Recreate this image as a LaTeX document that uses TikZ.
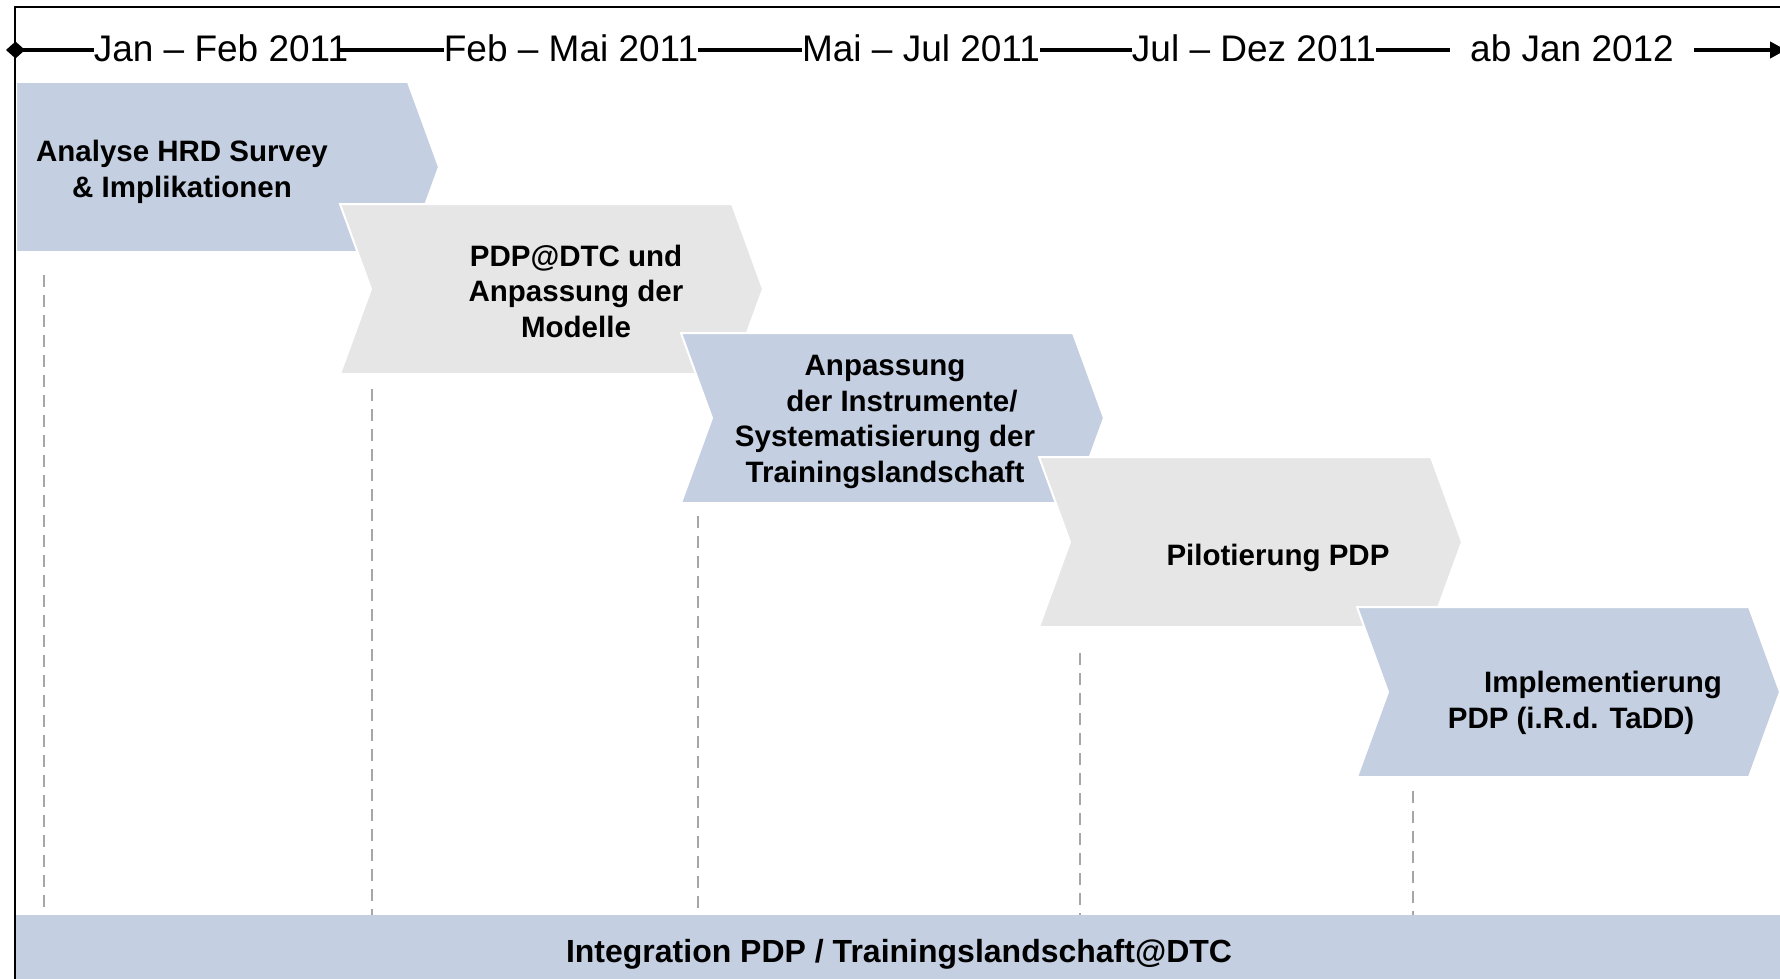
\documentclass[tikz,border=0pt]{standalone}
\usepackage{fontspec}
\setmainfont{Liberation Sans}
\usetikzlibrary{arrows.meta}
\definecolor{phaseblue}{HTML}{C4CFE1}
\definecolor{phasegrey}{HTML}{E6E6E6}
\definecolor{guidegrey}{HTML}{A6A6A6}

\begin{document}
\begin{tikzpicture}[x=1pt,y=-1pt,
  datelabel/.style={font=\fontsize{37}{41}\selectfont, inner sep=0pt, anchor=base},
  phasetext/.style={font=\bfseries\fontsize{29.5}{35.5}\selectfont, align=center, inner sep=0pt},
  chevron/.style={draw=white, line width=2pt},
  bluephase/.style={chevron, fill=phaseblue},
  greyphase/.style={chevron, fill=phasegrey},
  timeline/.style={line width=4.5pt},
  guideline/.style={draw=guidegrey, line width=1.5pt, dash pattern=on 12pt off 8pt},
]
\useasboundingbox (0,0) rectangle (1780,979);
\fill[white] (0,0) rectangle (1780,979);

% phase chevrons, each one overlapping the previous one
\path[bluephase] (16,82) -- ++(392,0) -- ++(31,85) -- ++(-31,85) -- ++(-392,0) -- cycle;
\path[greyphase] (340,204) -- ++(392,0) -- ++(31,85) -- ++(-31,85) -- ++(-392,0) -- ++(31,-85) -- cycle;
\path[bluephase] (681,333) -- ++(392,0) -- ++(31,85) -- ++(-31,85) -- ++(-392,0) -- ++(31,-85) -- cycle;
\path[greyphase] (1039,457) -- ++(392,0) -- ++(31,85) -- ++(-31,85) -- ++(-392,0) -- ++(31,-85) -- cycle;
\path[bluephase] (1357,607) -- ++(392,0) -- ++(31,85) -- ++(-31,85) -- ++(-392,0) -- ++(31,-85) -- cycle;

% phase titles
\node[phasetext] (p1) at (182,172) {Analyse HRD Survey\\\& Implikationen};
\node[phasetext] (p2) at (576,291) {PDP@DTC und\\Anpassung der\\Modelle};
\node[phasetext] (p3) at (885,422) {Anpassung\\\hspace*{34pt}der Instrumente/\\Systematisierung der\\Trainingslandschaft};
\node[phasetext] (p4) at (1278,558) {Pilotierung PDP};
\node[phasetext] (p5) at (1571,703) {\hspace*{64pt}Implementierung\\PDP (i.R.d. TaDD)};

% integration band along the bottom
\node[fill=phaseblue, inner sep=0pt, minimum width=1766pt, minimum height=72pt] (band) at (899,951) {};
\node[font=\bfseries\fontsize{32}{36}\selectfont, inner sep=0pt, anchor=base] (bandtext) at (899,962)
  {Integration PDP / Trainingslandschaft@DTC};

% dashed guides from each phase down to the band
\coordinate (g1) at (44,275);
\coordinate (g2) at (372,389);
\coordinate (g3) at (698,516);
\coordinate (g4) at (1080,653);
\coordinate (g5) at (1413,791);
\foreach \g in {g1,g2,g3,g4,g5}
  \draw[guideline] (\g) -- (\g |- band.north);

% frame
\draw[line width=2pt] (15,1000) -- (15,7) -- (1800,7);

% time axis
\coordinate (tstart) at (6,50);
\coordinate (tend) at (1786,50);
\node[datelabel] (d1) at (221,62) {Jan – Feb 2011};
\node[datelabel] (d2) at (571,62) {Feb – Mai 2011};
\node[datelabel] (d3) at (921,62) {Mai – Jul 2011};
\node[datelabel] (d4) at (1254,62) {Jul – Dez 2011};
\node[datelabel, inner xsep=20pt] (d5) at (1572,62) {ab Jan 2012};

\draw[timeline, {Diamond[length=19pt,width=17pt]}-] (tstart) -- (d1.west |- tstart);
\draw[timeline, shorten <=-8pt] (d1.east |- tstart) -- (d2.west |- tstart);
\draw[timeline] (d2.east |- tstart) -- (d3.west |- tstart);
\draw[timeline] (d3.east |- tstart) -- (d4.west |- tstart);
\draw[timeline] (d4.east |- tstart) -- (d5.west |- tstart);
\draw[timeline, -{Triangle[length=16pt,width=16pt]}] (d5.east |- tstart) -- (tend);
\end{tikzpicture}
\end{document}
